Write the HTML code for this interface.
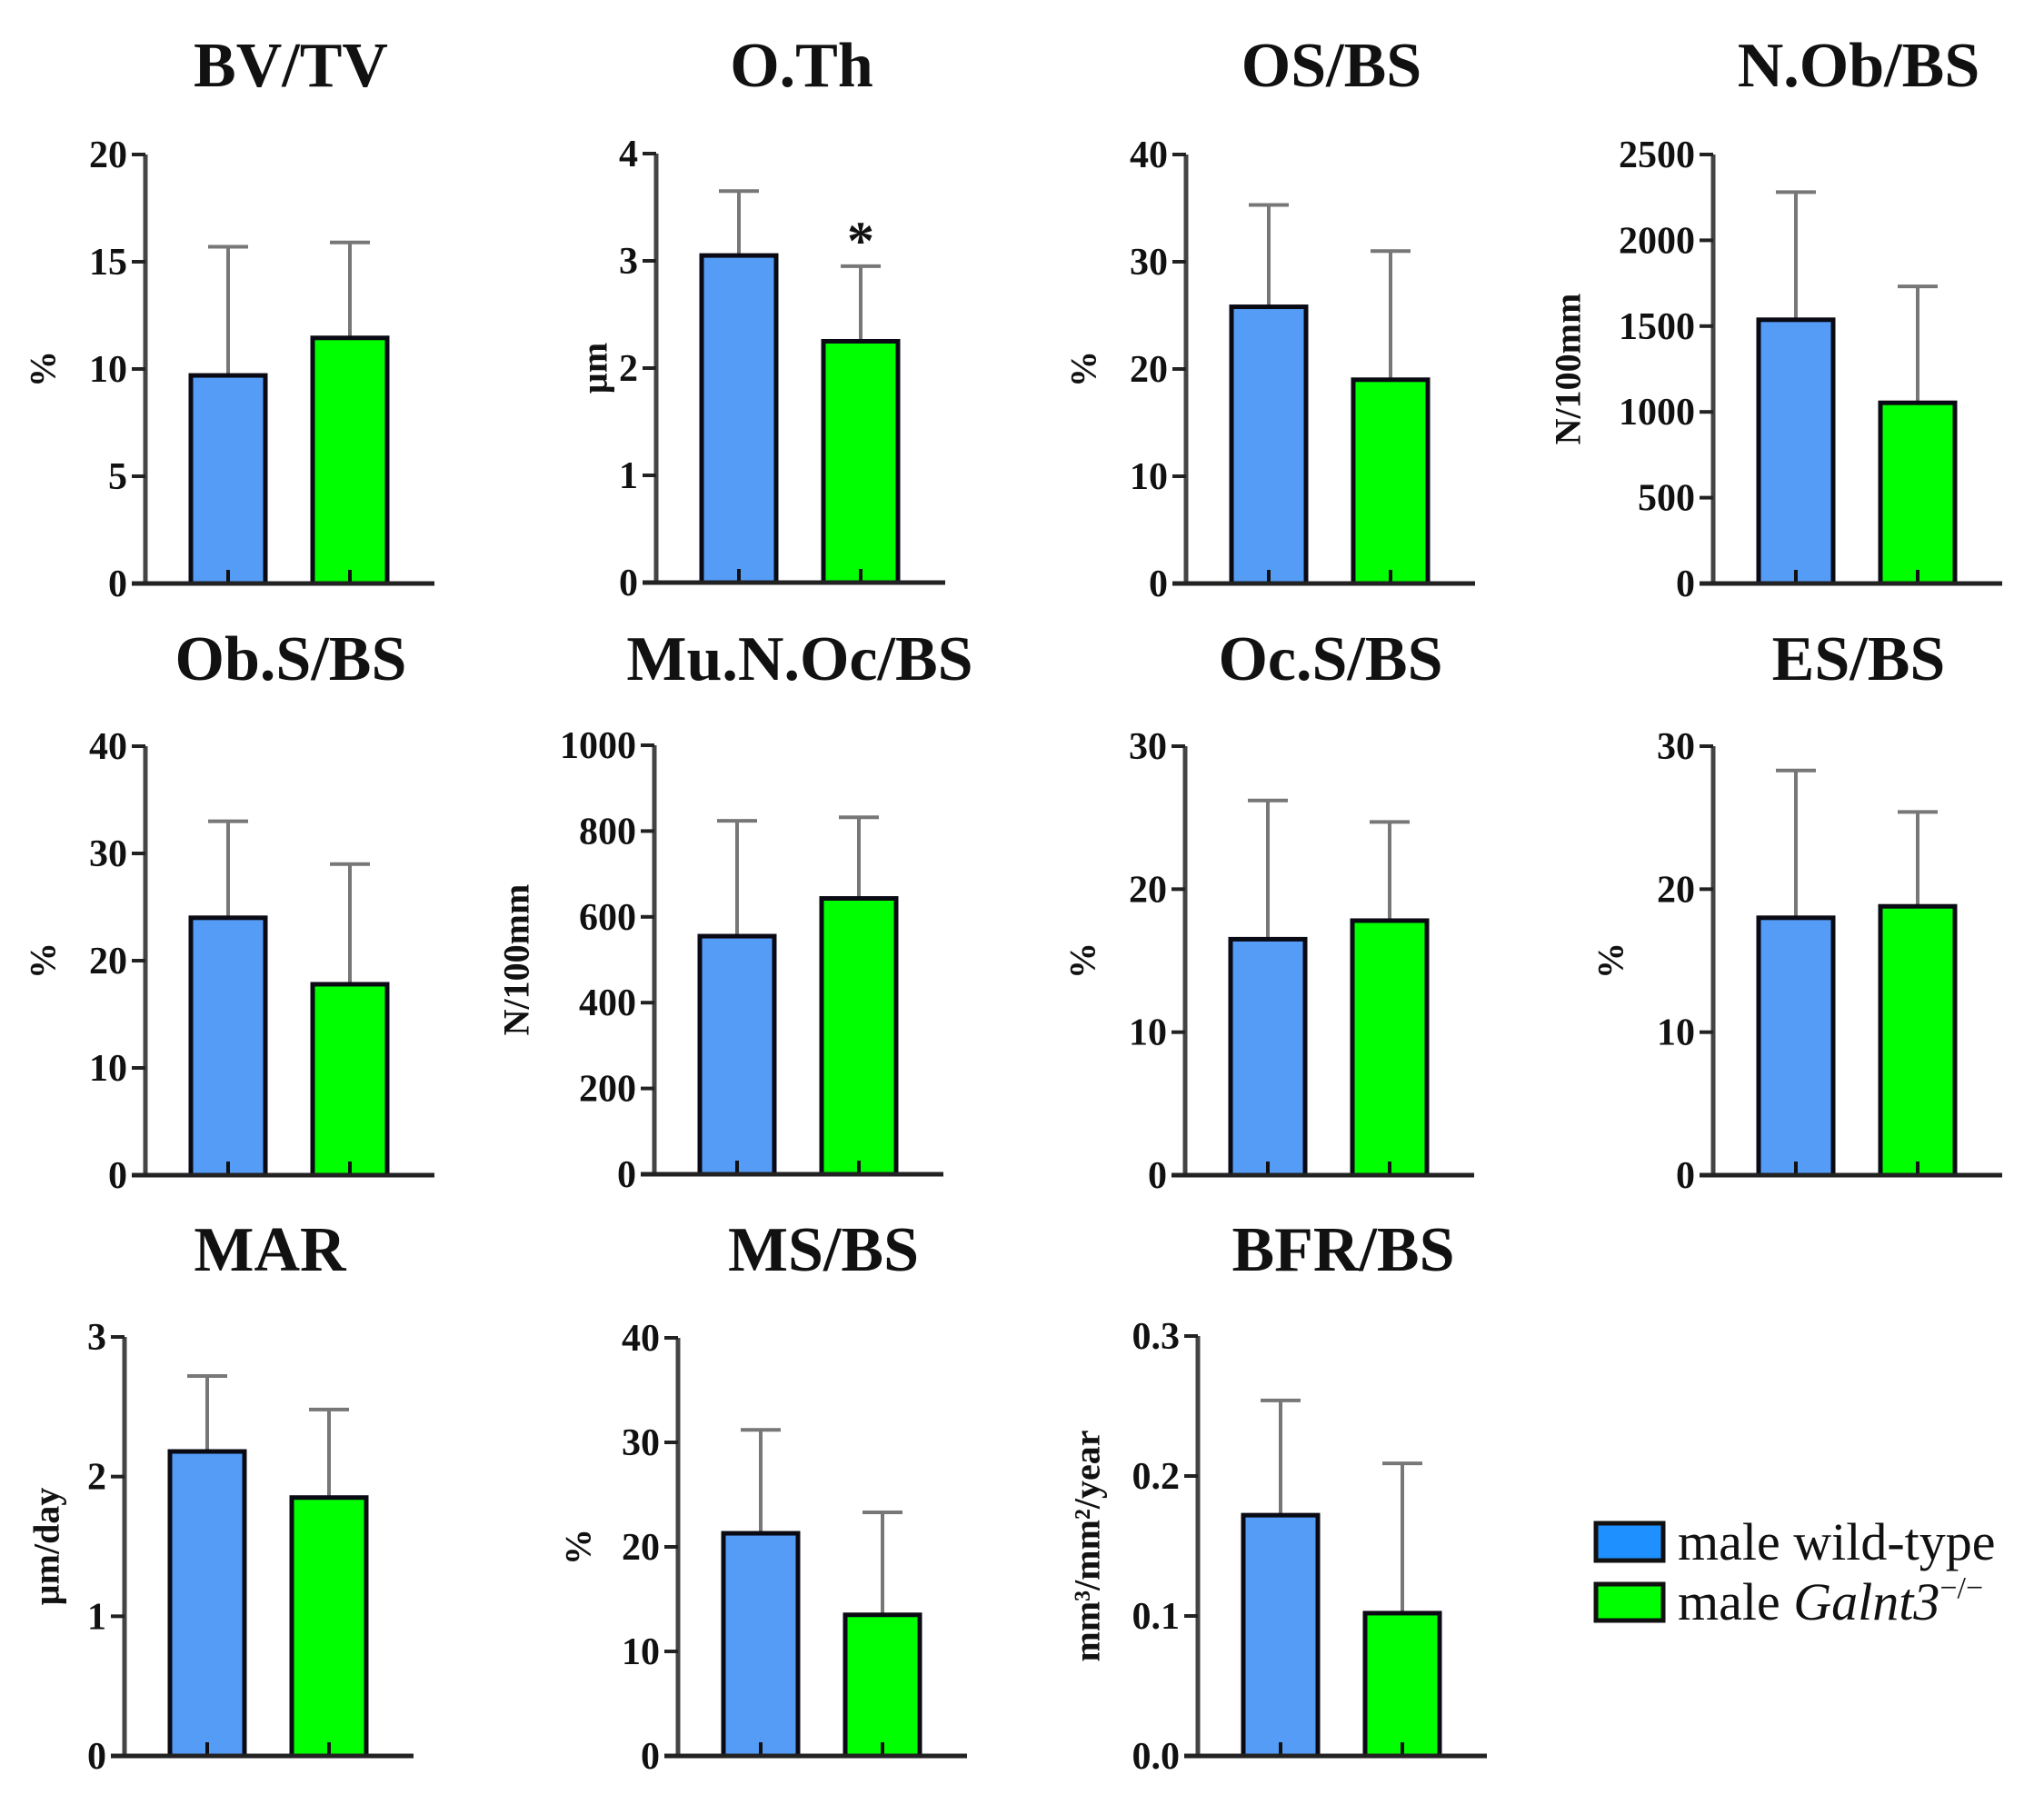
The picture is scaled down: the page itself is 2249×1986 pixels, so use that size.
<!DOCTYPE html>
<html><head><meta charset="utf-8">
<style>
html,body{margin:0;padding:0;background:#fff;}
svg{display:block;}
</style></head>
<body>
<svg id="fig" xmlns="http://www.w3.org/2000/svg" width="2249" height="1986" viewBox="0 0 2249 1986">
<rect x="0" y="0" width="2249" height="1986" fill="#fff"/>
<g id="legend">
  <g>
    <rect x="1756" y="1676" width="74" height="41" fill="#1e90ff" stroke="#111" stroke-width="5"/>
    <text x="1846" y="1716" font-family="Liberation Serif, serif" font-size="58" fill="#111">male wild-type</text>
  </g>
  <g>
    <rect x="1756" y="1743" width="74" height="40" fill="#00ff00" stroke="#111" stroke-width="5"/>
    <text x="1846" y="1782" font-family="Liberation Serif, serif" font-size="58" fill="#111">male <tspan font-style="italic">Galnt3</tspan><tspan font-size="34" dy="-24">−/−</tspan></text>
  </g>
</g>
</svg>
<script>
// ---- data ----
const titles = ["BV/TV","O.Th","OS/BS","N.Ob/BS","Ob.S/BS","Mu.N.Oc/BS","Oc.S/BS","ES/BS","MAR","MS/BS","BFR/BS"];
const yLabels = ["%","µm","%","N/100mm","%","N/100mm","%","%","µm/day","%","mm³/mm²/year"];
const wildTypeMean = [9.7, 3.05, 25.8, 1537, 24.0, 555, 16.5, 18.0, 2.18, 21.3, 0.172];
const wildTypeUpper = [15.7, 3.65, 35.3, 2281, 33.0, 824, 26.2, 28.3, 2.72, 31.2, 0.254];
const knockoutMean = [11.45, 2.25, 19.0, 1053, 17.8, 643, 17.8, 18.8, 1.85, 13.5, 0.102];
const knockoutUpper = [15.9, 2.95, 31.0, 1731, 29.0, 832, 24.7, 25.4, 2.48, 23.3, 0.209];
const yMax = [20, 4, 40, 2500, 40, 1000, 30, 30, 3, 40, 0.3];
const yStep = [5, 1, 10, 500, 10, 200, 10, 10, 1, 10, 0.1];
const tickDecimals = [0,0,0,0,0,0,0,0,0,0,1];
const significant = [false, true, false, false, false, false, false, false, false, false, false];

// ---- layout (pixel geometry, not data) ----
const axisX = [160, 722, 1305, 1885, 160, 720, 1304, 1885, 137, 746, 1318];
const axisTop = [170, 169, 170, 170, 821, 820, 821, 821, 1471, 1472, 1470];
const axisBottom = [642, 641, 642, 642, 1293, 1292, 1293, 1293, 1932, 1932, 1932];
const titleY = [95, 95, 95, 95, 748, 748, 748, 748, 1398, 1398, 1398];
const yLabelOffset = [113, 68, 113, 160, 113, 152, 113, 113, 86, 110, 122];

const NS = "http://www.w3.org/2000/svg";
const svg = document.getElementById("fig");
function mk(tag, attrs, parent){
  const e = document.createElementNS(NS, tag);
  for (const k in attrs) e.setAttribute(k, attrs[k]);
  parent.appendChild(e);
  return e;
}
const serif = "Liberation Serif, serif";

titles.forEach((t, i) => {
  const g = mk("g", {}, svg);
  
  
  const ax = axisX[i], top = axisTop[i], bot = axisBottom[i];
  const yScale = v => bot - (v / yMax[i]) * (bot - top);
  const cx = ax + 160;

  const title = mk("text", {x: cx, y: titleY[i], "text-anchor": "middle", "font-family": serif, "font-weight": "bold", "font-size": 70, fill: "#111"}, g);
  title.textContent = t;
  
  

  const bars = [
    {v: wildTypeMean[i], u: wildTypeUpper[i], x0: ax + 50, fill: "#559cf7", name: "bar-wild-type"},
    {v: knockoutMean[i], u: knockoutUpper[i], x0: ax + 184, fill: "#00ff00", name: "bar-galnt3-knockout"}
  ];
  bars.forEach(b => {
    const bw = 82, bc = b.x0 + bw / 2;
    const yt = yScale(b.v), yu = yScale(b.u);
    const eb = mk("line", {x1: bc, x2: bc, y1: yt, y2: yu, stroke: "#777", "stroke-width": 4}, g);
    
    
    const cap = mk("line", {x1: bc - 22, x2: bc + 22, y1: yu, y2: yu, stroke: "#777", "stroke-width": 4}, g);
    
    
    const r = mk("rect", {x: b.x0, y: yt, width: bw, height: bot - yt, fill: b.fill, stroke: "#0a0a14", "stroke-width": 5}, g);
    
    
    const xt = mk("line", {x1: bc, x2: bc, y1: bot, y2: bot - 15, stroke: "#111", "stroke-width": 4}, g);
    
    
  });

  if (significant[i]) {
    const st = mk("text", {x: ax + 225, y: yScale(knockoutUpper[i]) - 8, "text-anchor": "middle", "font-family": serif, "font-weight": "bold", "font-size": 60, fill: "#111"}, g);
    st.textContent = "*";
    
    
  }

  const ya = mk("line", {x1: ax, x2: ax, y1: top, y2: bot, stroke: "#444", "stroke-width": 5}, g);
  
  
  const xa = mk("line", {x1: ax - 15, x2: ax + 318, y1: bot, y2: bot, stroke: "#222", "stroke-width": 5}, g);
  
  

  const n = Math.round(yMax[i] / yStep[i]);
  for (let k = 0; k <= n; k++) {
    const v = k * yStep[i];
    const y = yScale(v);
    const tk = mk("line", {x1: ax - 15, x2: ax, y1: y, y2: y, stroke: "#222", "stroke-width": 4}, g);
    
    
    const tl = mk("text", {x: ax - 20, y: y + 14, "text-anchor": "end", "font-family": serif, "font-weight": "bold", "font-size": 42, fill: "#111"}, g);
    tl.textContent = v.toFixed(tickDecimals[i]);
    
    
  }

  const lx = ax - yLabelOffset[i], ly = (top + bot) / 2;
  const yl = mk("text", {x: lx, y: ly, "text-anchor": "middle", "dominant-baseline": "central", transform: `rotate(-90 ${lx} ${ly})`, "font-family": serif, "font-weight": "bold", "font-size": 40, fill: "#111"}, g);
  yl.textContent = yLabels[i];
  
  
});
</script>
</body></html>
